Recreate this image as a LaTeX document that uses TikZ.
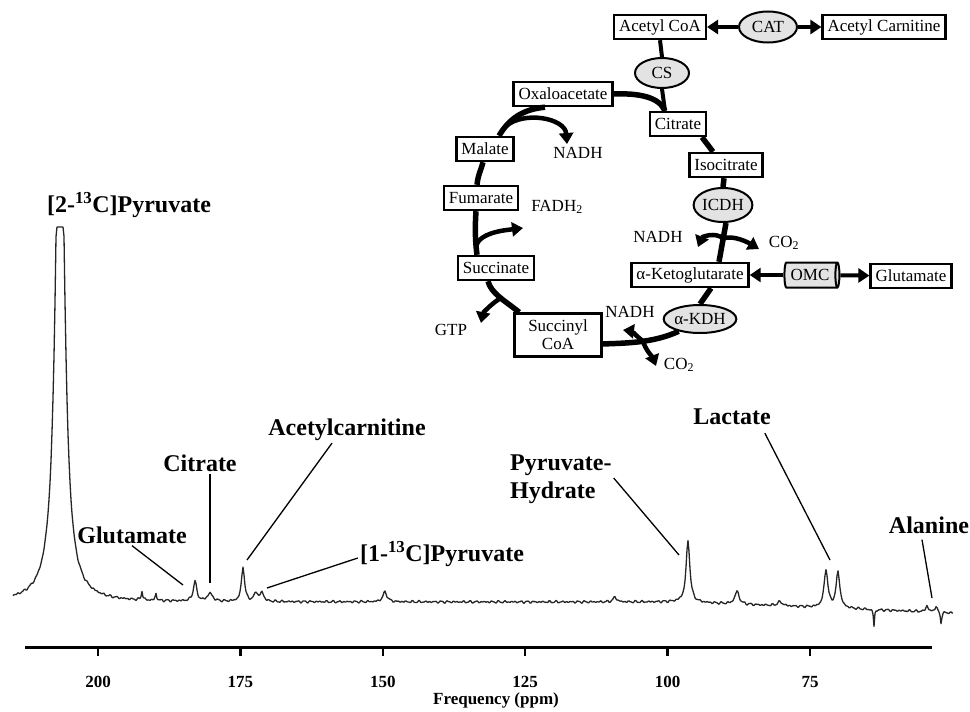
\documentclass[tikz,border=0pt]{standalone}
\usepackage{fontspec}
\setmainfont{Liberation Serif}
\usetikzlibrary{arrows.meta,shapes.geometric}
\newcommand{\fsm}{\fontsize{17}{18}\selectfont}
\newcommand{\fbig}{\fontsize{24}{27}\selectfont\bfseries}

\begin{document}
\begin{tikzpicture}[x=1pt,y=-1pt,
  box/.style={draw,line width=2.4pt,fill=white,font=\fsm,inner xsep=5pt,inner ysep=2pt,minimum height=24pt},
  enz/.style={ellipse,draw,line width=2pt,fill=gray!22,font=\fsm,inner sep=0pt},
  cyc/.style={line width=5.5pt},
  side/.style={line width=4.5pt,-{Triangle[length=11pt,width=14pt]}},
  fat/.style={line width=4pt,-{Triangle[length=11pt,width=14pt]}},
  lbl/.style={font=\fbig,inner sep=2pt},
  lead/.style={line width=1.3pt},
  spec/.style={line width=1.3pt,black!85,line join=round},
  declare function={
    lor(\x,\c,\h,\w)=\h/(1+(min(abs(\x-\c)/\w,100))^2);
    sig(\x)=lor(\x,60,600,5)+lor(\x,142,9,.8)+lor(\x,156,7,.8)
      +lor(\x,195,20,2)+lor(\x,210,8,3)+lor(\x,243,35,1.8)
      +lor(\x,256,9,2)+lor(\x,262,9,2)+lor(\x,385,10,2.5)
      +lor(\x,615,5,2)+lor(\x,688,62,2.2)+lor(\x,737,13,2.5)
      +lor(\x,780,4,3)+lor(\x,826,38,2.2)+lor(\x,838,36,2.2)
      +lor(\x,874,-17,.6)+lor(\x,927,6,1.5)+lor(\x,936,6,1.5)
      +lor(\x,941,-11,.8)
      +0.6*sin(mod(\x,36)*50)+0.45*sin(mod(\x,24)*105)+0.5*sin(mod(\x,40)*63);}]
\useasboundingbox (0,0) rectangle (970,712);

%cycle
\node[box] (acoa) at (660,27) {Acetyl CoA};
\node[enz,minimum width=58pt,minimum height=31pt] (cat) at (768,27) {CAT};
\node[box] (acarn) at (884,27) {Acetyl Carnitine};
\node[enz,minimum width=54pt,minimum height=30pt] (cs) at (662,73) {CS};
\node[box] (oaa) at (563,94) {Oxaloacetate};
\node[box] (cit) at (678,124) {Citrate};
\node[box] (isc) at (726,165) {Isocitrate};
\node[enz,minimum width=58pt,minimum height=34pt] (icdh) at (723,205) {ICDH};
\node[box] (akg) at (690,275) {α-Ketoglutarate};
\node[cylinder,shape border rotate=0,aspect=0.3,draw,line width=2pt,fill=gray!22,font=\fsm,inner sep=1pt,minimum width=25pt,minimum height=55pt] (omc) at (810,275) {OMC};
\node[box] (glu) at (911,276) {Glutamate};
\node[enz,minimum width=66pt,minimum height=28pt] (akdh) at (700,319) {α-KDH};
\node[box,align=center,minimum width=87pt,minimum height=43pt,inner ysep=0pt] (scoa) at (558,335) {Succinyl\\CoA};
\node[box] (succ) at (496,268) {Succinate};
\node[box] (fum) at (481,198) {Fumarate};
\node[box] (mal) at (485,149) {Malate};

\node[font=\fsm] (nadha) at (578,153) {NADH};
\node[font=\fsm] (fadh) at (557,207) {FADH\textsubscript{2}};
\node[font=\fsm] (nadhb) at (658,237) {NADH};
\node[font=\fsm] (co2a) at (784,243) {CO\textsubscript{2}};
\node[font=\fsm] (nadhc) at (630,312) {NADH};
\node[font=\fsm] (co2b) at (679,365) {CO\textsubscript{2}};
\node[font=\fsm] (gtp) at (451,330) {GTP};

\draw[fat] (cat) -- (acoa);
\draw[fat] (cat) -- (acarn);
\draw[fat] (omc) -- (akg);
\draw[fat] (omc) -- (glu);

\draw[line width=4pt] (acoa.south) -- (cs.north);
\draw[line width=4pt] (cs.south) -- ([xshift=-13pt]cit.north);
\draw[cyc] (oaa.east) .. controls +(25,-1) and +(-6,-14) .. ([xshift=-13pt]cit.north);
\draw[cyc] ([xshift=24pt]cit.south) -- ([xshift=-13pt]isc.north);
\draw[cyc] ([xshift=-2pt]isc.south) -- (icdh.north);
\draw[cyc] ([xshift=3pt]icdh.south) -- ([xshift=29pt]akg.north)
  coordinate[pos=.4] (bicdh);
\draw[cyc] ([xshift=21pt]akg.south) -- (akdh.north);
\draw[cyc] (akdh.210) .. controls +(-26,12) and +(22,-1) .. ([yshift=-9pt]scoa.east)
  coordinate[pos=.45] (bkdh);
\draw[cyc] ([xshift=6pt]scoa.north west) .. controls +(-15,-12) and +(3,12) .. ([xshift=-8pt]succ.south)
  coordinate[pos=.45] (bscoa);
\draw[cyc] ([xshift=-19pt]succ.north) .. controls +(-2,-15) and +(-1,15) .. ([xshift=-5pt]fum.south)
  coordinate[pos=.2] (bsucc);
\draw[cyc] ([xshift=-4pt]fum.north) .. controls +(1,-10) and +(-2,8) .. ([xshift=-2pt]mal.south);
\draw[cyc] ([xshift=14pt]mal.north) .. controls +(10,-17) and +(-22,2) .. ([xshift=-18pt]oaa.south)
  coordinate[pos=.2] (bmal);

\coordinate (tnadha) at (567,144);
\coordinate (tfadh) at (523,228);
\coordinate (tgtp) at (481,323);
\coordinate (tnadhb) at (698,247);
\coordinate (tco2a) at (759,249);
\coordinate (tnadhc) at (623,330);
\coordinate (tco2b) at (656,366);
\draw[side] (bmal) .. controls +(18,-16) and +(-2,-26) .. (tnadha);
\draw[side] (bsucc) .. controls +(4,-14) and +(-16,2) .. (tfadh);
\draw[side] (bscoa) .. controls +(-8,4) and +(2,-10) .. (tgtp);
\draw[side] (bicdh) .. controls +(-8,-7) and +(4,-10) .. (tnadhb);
\draw[side] (bicdh) .. controls +(10,-4) and +(-10,-6) .. (tco2a);
\draw[side] (bkdh) .. controls +(-5,-4) and +(8,1) .. (tnadhc);
\draw[side] (bkdh) .. controls +(2,8) and +(-3,-8) .. (tco2b);

%spectrum
\draw[spec] plot[domain=13:953,samples=941,variable=\t]
  (\t,{max(227,602+0.04*max(0,\t-680)-sig(\t))});

\node[lbl] (lpyr2) at (129,205) {[2-\textsuperscript{13}C]Pyruvate};
\node[lbl] (lglu) at (132,535) {Glutamate};
\node[lbl] (lcit) at (200,463) {Citrate};
\node[lbl] (lacar) at (347,430) {Acetylcarnitine};
\node[lbl] (lpyr1) at (442,554) {[1-\textsuperscript{13}C]Pyruvate};
\node[lbl,align=left,anchor=west,font=\fontsize{24}{28}\selectfont\bfseries] (lpyh) at (508,479) {Pyruvate-\\Hydrate};
\node[lbl] (llac) at (732,417) {Lactate};
\node[lbl] (lala) at (929,525) {Alanine};

\coordinate (pglu) at (183,585);
\coordinate (pcit) at (210,583);
\coordinate (pacar) at (247,560);
\coordinate (ppyr1) at (267,588);
\coordinate (ppyh) at (679,555);
\coordinate (plac) at (830,560);
\coordinate (pala) at (932,598);
\draw[lead] (lglu.south) -- (pglu);
\draw[lead] ([xshift=10pt]lcit.south) -- (pcit);
\draw[lead] ([xshift=-15pt]lacar.south) -- (pacar);
\draw[lead] ([yshift=-4pt]lpyr1.west) -- (ppyr1);
\draw[lead] ([yshift=1pt]lpyh.east) -- (ppyh);
\draw[lead] ([xshift=-8pt,yshift=-6pt]llac.south east) -- (plac);
\draw[lead] ([xshift=-7pt,yshift=-4pt]lala.south) -- (pala);

%axis
\draw[line width=3pt] (25,647) -- (932,647);
\foreach \p in {200,175,150,125,100,75}{
  \pgfmathsetmacro{\px}{98+(200-\p)*5.696}
  \draw[line width=2.5pt] (\px,647) -- (\px,656);
  \node[font=\fontsize{17}{18}\selectfont\bfseries] (t\p) at (\px,682) {\p};
}
\node[font=\fontsize{17}{18}\selectfont\bfseries] (xlab) at (496,700) {Frequency (ppm)};
\end{tikzpicture}
\end{document}
